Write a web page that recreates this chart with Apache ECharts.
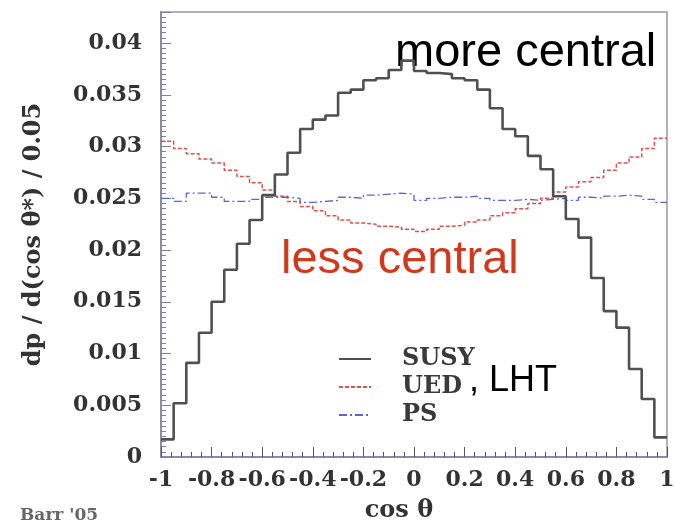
<!DOCTYPE html>
<html>
<head>
<meta charset="utf-8">
<script src="https://cdn.jsdelivr.net/npm/echarts@6/dist/echarts.min.js"></script>
<style>
  html, body { margin: 0; padding: 0; background: #fff; }
  #chart { width: 675px; height: 522px; }
</style>
</head>
<body>
<div id="chart"></div>
<script>
// 40 bins of width 0.05 on cos theta, from -1 to 1
const binLow = -1
const binWidth = 0.05

const susy = [
  0.0017, 0.0052, 0.0091, 0.0120, 0.0150, 0.0181, 0.0206, 0.0229, 0.0253, 0.0273,
  0.0294, 0.0317, 0.0326, 0.0330, 0.0352, 0.0355, 0.0364, 0.0366, 0.0374, 0.0383,
  0.0373, 0.0371, 0.0370, 0.0366, 0.0364, 0.0355, 0.0337, 0.0317, 0.0310, 0.0291,
  0.0278, 0.0252, 0.0230, 0.0212, 0.0173, 0.0141, 0.0125, 0.0085, 0.0056, 0.0019
]
const ued = [
  0.0305, 0.0298, 0.0293, 0.0288, 0.0284, 0.0277, 0.0271, 0.0265, 0.0258, 0.0252,
  0.0247, 0.0242, 0.0238, 0.0233, 0.0229, 0.0226, 0.0225, 0.0223, 0.0222, 0.0220,
  0.0218, 0.0220, 0.0223, 0.0224, 0.0227, 0.0229, 0.0233, 0.0236, 0.0240, 0.0245,
  0.0250, 0.0256, 0.0261, 0.0266, 0.0270, 0.0277, 0.0284, 0.0290, 0.0298, 0.0308
]
const ps = [
  0.0250, 0.0247, 0.0255, 0.0255, 0.0251, 0.0247, 0.0247, 0.0249, 0.0251, 0.0251,
  0.0250, 0.0246, 0.0247, 0.0248, 0.0251, 0.0250, 0.0253, 0.0254, 0.0255, 0.0254,
  0.0248, 0.0250, 0.0251, 0.0251, 0.0252, 0.0250, 0.0248, 0.0248, 0.0249, 0.0248,
  0.0249, 0.0250, 0.0248, 0.0251, 0.0250, 0.0252, 0.0253, 0.0252, 0.0249, 0.0246
]

const serif = 'DejaVu Serif'
const sans = 'Liberation Sans'
const axisColor = '#7f7fa6'

// bin contents -> points at the bin edges, drawn as steps
function toSteps(values) {
  const pts = values.map((v, i) => [binLow + i * binWidth, v])
  pts.push([binLow + values.length * binWidth, values[values.length - 1]])
  return pts
}

const chart = echarts.init(document.getElementById('chart'))

const option = {
  animation: false,
  backgroundColor: '#fff',
  grid: {
    left: 161, right: 8, top: 12, bottom: 65,
    outerBoundsMode: 'none',
    containLabel: false,
    show: true, borderColor: '#999', borderWidth: 1.5
  },
  legend: {
    orient: 'vertical',
    left: 333, top: 342,
    data: ['SUSY', 'UED', 'PS'],
    itemWidth: 32, itemHeight: 14, itemGap: 4,
    itemStyle: { opacity: 0 },
    textStyle: {
      fontFamily: serif, fontWeight: 'bold', fontSize: 24, color: '#3a3a3a',
      padding: [0, 0, 0, 26]
    }
  },
  xAxis: {
    type: 'value',
    min: -1, max: 1, interval: 0.2,
    name: 'cos θ',
    nameLocation: 'middle',
    nameGap: 42,
    nameTextStyle: {
      fontFamily: serif, fontWeight: 'bold', fontSize: 24, color: '#333',
      padding: [0, 30, 0, 0]
    },
    axisLine: { lineStyle: { color: axisColor, width: 1.5 } },
    axisTick: { inside: true, length: 10, lineStyle: { color: '#555' } },
    minorTick: { show: true, splitNumber: 5, length: 5, lineStyle: { color: '#555' } },
    splitLine: { show: false },
    axisLabel: {
      margin: 12,
      fontFamily: serif, fontWeight: 'bold', fontSize: 22, color: '#333',
      formatter: v => String(Math.round(v * 10) / 10)
    }
  },
  yAxis: {
    type: 'value',
    min: 0, max: 0.043, interval: 0.005,
    name: 'dp / d(cos θ*) / 0.05',
    nameLocation: 'middle',
    nameRotate: 90,
    nameGap: 115,
    nameTextStyle: { fontFamily: serif, fontWeight: 'bold', fontSize: 24, color: '#333' },
    axisLine: { show: true, onZero: false, lineStyle: { color: axisColor, width: 1.5 } },
    axisTick: { inside: true, length: 10, lineStyle: { color: axisColor } },
    minorTick: { show: true, splitNumber: 10, length: 5, lineStyle: { color: axisColor } },
    splitLine: { show: false },
    axisLabel: {
      margin: 19,
      showMaxLabel: false,
      fontFamily: serif, fontWeight: 'bold', fontSize: 22, color: '#333',
      formatter: v => String(Number(v.toFixed(3)))
    }
  },
  series: [
    {
      name: 'UED', type: 'line', step: 'end', symbol: 'none',
      data: toSteps(ued),
      lineStyle: { color: '#e05050', width: 1.5, type: [4, 2] },
      itemStyle: { color: '#e05050' }
    },
    {
      name: 'PS', type: 'line', step: 'end', symbol: 'none',
      data: toSteps(ps),
      lineStyle: { color: '#5566dd', width: 1.3, type: [8, 3, 2, 3] },
      itemStyle: { color: '#5566dd' }
    },
    {
      name: 'SUSY', type: 'line', step: 'end', symbol: 'none',
      data: toSteps(susy),
      lineStyle: { color: '#505050', width: 2.6 },
      itemStyle: { color: '#505050' }
    }
  ],
  graphic: [
    {
      type: 'text', left: 395, top: 30,
      style: { text: 'more central', fontFamily: sans, fontSize: 47, fill: '#000' }
    },
    {
      type: 'text', left: 281, top: 237,
      style: { text: 'less central', fontFamily: sans, fontSize: 47, fill: '#d2381c' }
    },
    {
      type: 'text', left: 469, top: 363,
      style: { text: ', LHT', fontFamily: sans, fontSize: 36, fill: '#000' }
    },
    {
      type: 'text', left: 20, top: 507,
      style: { text: "Barr '05", fontFamily: serif, fontWeight: 'bold', fontSize: 17, fill: '#666' }
    }
  ]
}

chart.setOption(option)
</script>
</body>
</html>
